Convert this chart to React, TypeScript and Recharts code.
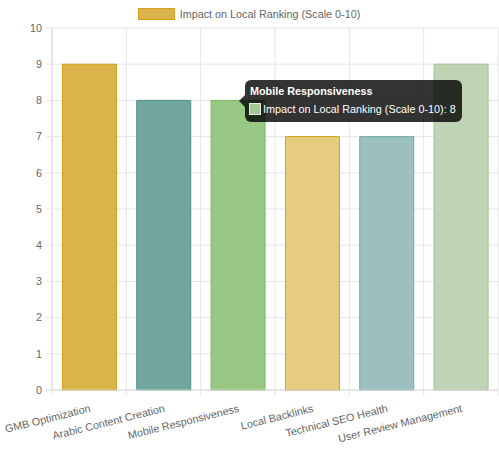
import React from 'react';
import { BarChart, Bar, XAxis, YAxis, CartesianGrid, Tooltip, Legend, Cell } from 'recharts';

const categories = [
  'GMB Optimization',
  'Arabic Content Creation',
  'Mobile Responsiveness',
  'Local Backlinks',
  'Technical SEO Health',
  'User Review Management',
];
const impactScores = [9, 8, 8, 7, 7, 9];
const fillColors = ['#dab44a', '#72a7a0', '#98c884', '#e6cc80', '#9bc0bf', '#bed4b4'];
const borderColors = ['#d4a017', '#4f9088', '#7cb866', '#d4a017', '#74aaa8', '#9cc28c'];
const yTicks = [0, 1, 2, 3, 4, 5, 6, 7, 8, 9, 10];
const seriesName = 'Impact on Local Ranking (Scale 0-10)';

const data = categories.map((name, i) => ({ name, impact: impactScores[i] }));

const GRID = '#e5e5e5';
const TEXT = '#666';
const FONT = '"Liberation Sans", Arial, Helvetica, sans-serif';
const FS = 10.8;

// chart.js style rotated label + tick marks at the category boundaries
const AngledTick = (props: any) => {
  const { x, y, payload, index, width, visibleTicksCount } = props;
  const band = width / visibleTicksCount;
  const ty = y + 18;
  return (
    <g>
      <line x1={x - band / 2} x2={x - band / 2} y1={y} y2={y + 6} stroke={GRID} />
      {index === visibleTicksCount - 1 && (
        <line x1={x + band / 2} x2={x + band / 2} y1={y} y2={y + 6} stroke={GRID} />
      )}
      <text
        x={x + 1}
        y={ty}
        dy="0.35em"
        textAnchor="end"
        fill={TEXT}
        fontSize={FS}
        fontFamily={FONT}
        transform={`rotate(-14 ${x + 1} ${ty})`}
      >
        {payload.value}
      </text>
    </g>
  );
};

const TopLegend = () => (
  <div style={{ height: 14, display: 'flex', justifyContent: 'center', alignItems: 'center', fontFamily: FONT, fontSize: FS, color: TEXT }}>
    <span style={{ display: 'inline-block', width: 35, height: 10, background: fillColors[0], border: `1px solid ${borderColors[0]}`, marginRight: 5 }} />
    <span style={{ lineHeight: '14px' }}>{seriesName}</span>
  </div>
);

const DarkTooltip = ({ payload }: any) => {
  if (!payload || !payload.length) return null;
  const item = payload[0];
  return (
    <div
      style={{
        position: 'relative',
        background: 'rgba(0,0,0,0.8)',
        color: '#fff',
        borderRadius: 6,
        padding: '4px 6px 6px 4px',
        fontFamily: FONT,
        fontSize: FS,
        whiteSpace: 'nowrap',
      }}
    >
      <div
        style={{
          position: 'absolute',
          left: -6,
          top: 15,
          width: 0,
          height: 0,
          borderTop: '6px solid transparent',
          borderBottom: '6px solid transparent',
          borderRight: '6px solid rgba(0,0,0,0.8)',
        }}
      />
      <div style={{ fontWeight: 'bold', lineHeight: '14px', marginBottom: 4, paddingLeft: 1 }}>{item.payload.name}</div>
      <div style={{ display: 'flex', alignItems: 'center', lineHeight: '14px' }}>
        <span
          style={{
            display: 'inline-block',
            width: 10,
            height: 10,
            background: '#a6c898',
            border: '1px solid #e8e8e8',
            marginRight: 2,
          }}
        />
        <span>
          {seriesName}: {item.value}
        </span>
      </div>
    </div>
  );
};

export default function App() {
  return (
    <div style={{ position: 'absolute', left: 0, top: 0, width: 499, height: 449, background: '#fff' }}>
      <BarChart
        width={499}
        height={449}
        data={data}
        margin={{ top: 14, right: 1, bottom: 0, left: 0 }}
        barCategoryGap="14%"
      >
        <CartesianGrid
          stroke={GRID}
          verticalCoordinatesGenerator={({ offset }: any) =>
            categories.map((_, i) => offset.left + (i * offset.width) / categories.length).concat(offset.left + offset.width)
          }
        />
        <Legend verticalAlign="top" align="center" content={<TopLegend />} wrapperStyle={{ top: 7 }} />
        <XAxis
          dataKey="name"
          interval={0}
          height={59}
          tickLine={false}
          tickSize={0}
          tickMargin={0}
          axisLine={{ stroke: '#d9d9d9' }}
          tick={<AngledTick />}
        />
        <YAxis
          width={52}
          domain={[0, 10]}
          ticks={yTicks}
          interval={0}
          tickSize={6}
          tickMargin={4}
          tickLine={{ stroke: GRID }}
          axisLine={{ stroke: '#d9d9d9' }}
          tick={{ fill: TEXT, fontSize: FS, fontFamily: FONT }}
        />
        <Tooltip
          active
          defaultIndex={2}
          cursor={false}
          position={{ x: 245, y: 80 }}
          content={<DarkTooltip />}
          wrapperStyle={{ outline: 'none' }}
          isAnimationActive={false}
        />
        <Bar dataKey="impact" name={seriesName} isAnimationActive={false} strokeWidth={1}>
          {data.map((d, i) => (
            <Cell key={d.name} fill={fillColors[i]} stroke={borderColors[i]} />
          ))}
        </Bar>
      </BarChart>
    </div>
  );
}
